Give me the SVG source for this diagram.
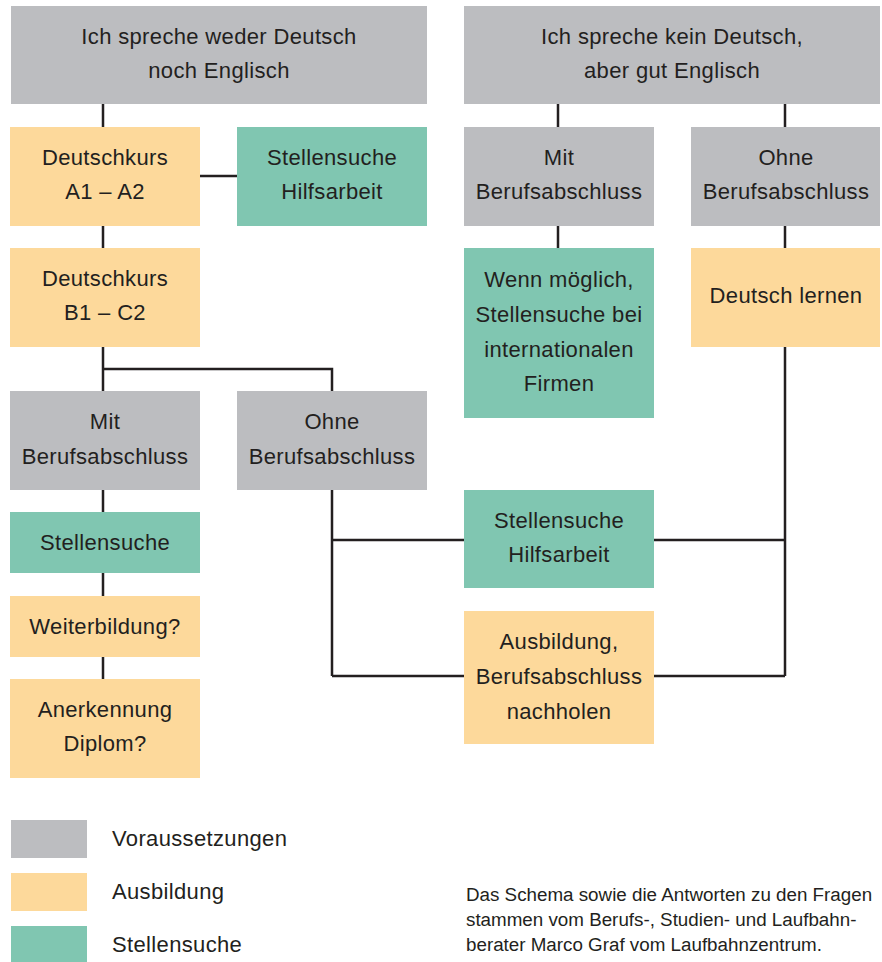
<svg xmlns="http://www.w3.org/2000/svg" width="882" height="962" viewBox="0 0 882 962">
<style>
.g{fill:#bcbdc0}.o{fill:#fdd99b}.t{fill:#80c6b1}
text{font-family:"Liberation Sans",Arial,sans-serif;font-size:22px;letter-spacing:0.35px;fill:#231f20;text-anchor:middle}
.lg{text-anchor:start}
.note{text-anchor:start;font-size:18.8px;letter-spacing:0}
.c{fill:none;stroke:#231f20;stroke-width:2.5}
</style>
<g id="connectors">
<path class="c" d="M103 104V127M200 176H237M103 226V248M103 347V391M103 369H332V391M103 490V512M103 573V596M103 657V679"/>
<path class="c" d="M558 104V127M785 104V127M558 226V248M785 226V248M785 347V676M332 490V676M332 540H464M654 540H785M332 676H464M654 676H785"/>
</g>
<g id="n1"><rect class="g" x="11" y="6" width="416" height="98"/><text x="219" y="44">Ich spreche weder Deutsch</text><text x="219" y="78">noch Englisch</text></g>
<g id="n2"><rect class="g" x="464" y="6" width="416" height="98"/><text x="672" y="44">Ich spreche kein Deutsch,</text><text x="672" y="78">aber gut Englisch</text></g>
<g id="n3"><rect class="o" x="10" y="127" width="190" height="99"/><text x="105" y="165">Deutschkurs</text><text x="105" y="199">A1 – A2</text></g>
<g id="n4"><rect class="t" x="237" y="127" width="190" height="99"/><text x="332" y="165">Stellensuche</text><text x="332" y="199">Hilfsarbeit</text></g>
<g id="n5"><rect class="g" x="464" y="127" width="190" height="99"/><text x="559" y="165">Mit</text><text x="559" y="199">Berufsabschluss</text></g>
<g id="n6"><rect class="g" x="691" y="127" width="189" height="99"/><text x="786" y="165">Ohne</text><text x="786" y="199">Berufsabschluss</text></g>
<g id="n7"><rect class="o" x="10" y="248" width="190" height="99"/><text x="105" y="286">Deutschkurs</text><text x="105" y="320">B1 – C2</text></g>
<g id="n8"><rect class="t" x="464" y="248" width="190" height="170"/><text x="559" y="287">Wenn möglich,</text><text x="559" y="322">Stellensuche bei</text><text x="559" y="357">internationalen</text><text x="559" y="391">Firmen</text></g>
<g id="n9"><rect class="o" x="691" y="248" width="189" height="99"/><text x="786" y="303">Deutsch lernen</text></g>
<g id="n10"><rect class="g" x="10" y="391" width="190" height="99"/><text x="105" y="429">Mit</text><text x="105" y="464">Berufsabschluss</text></g>
<g id="n11"><rect class="g" x="237" y="391" width="190" height="99"/><text x="332" y="429">Ohne</text><text x="332" y="464">Berufsabschluss</text></g>
<g id="n12"><rect class="t" x="10" y="512" width="190" height="61"/><text x="105" y="550">Stellensuche</text></g>
<g id="n13"><rect class="t" x="464" y="490" width="190" height="98"/><text x="559" y="528">Stellensuche</text><text x="559" y="562">Hilfsarbeit</text></g>
<g id="n14"><rect class="o" x="10" y="596" width="190" height="61"/><text x="105" y="634">Weiterbildung?</text></g>
<g id="n15"><rect class="o" x="464" y="611" width="190" height="133"/><text x="559" y="649">Ausbildung,</text><text x="559" y="684">Berufsabschluss</text><text x="559" y="719">nachholen</text></g>
<g id="n16"><rect class="o" x="10" y="679" width="190" height="99"/><text x="105" y="717">Anerkennung</text><text x="105" y="751">Diplom?</text></g>
<g id="legend">
<rect class="g" x="11" y="820" width="76" height="38"/><text class="lg" x="112" y="846">Voraussetzungen</text>
<rect class="o" x="11" y="873" width="76" height="38"/><text class="lg" x="112" y="899">Ausbildung</text>
<rect class="t" x="11" y="926" width="76" height="36"/><text class="lg" x="112" y="952">Stellensuche</text>
</g>
<g id="note">
<text class="note" x="466" y="901">Das Schema sowie die Antworten zu den Fragen</text>
<text class="note" x="466" y="926">stammen vom Berufs-, Studien- und Laufbahn-</text>
<text class="note" x="466" y="951">berater Marco Graf vom Laufbahnzentrum.</text>
</g>
</svg>
